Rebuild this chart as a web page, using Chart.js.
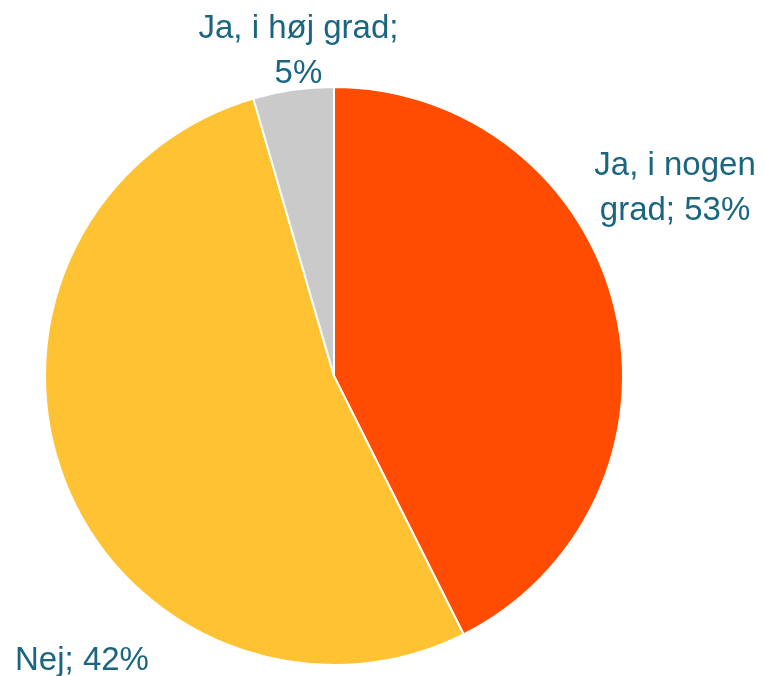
<!DOCTYPE html>
<html>
<head>
<meta charset="utf-8">
<script src="https://cdn.jsdelivr.net/npm/chart.js@4.4.1/dist/chart.umd.min.js"></script>
<style>
  html, body { margin: 0; padding: 0; background: #fff; }
  #wrap { width: 765px; height: 676px; }
</style>
</head>
<body>
<div id="wrap"><canvas id="myChart"></canvas></div>
<script>
// slice sizes
var categories = ['Ja, i nogen grad', 'Nej', 'Ja, i høj grad'];
var sliceValues = [42.6, 52.9, 4.5];
// percentages as printed in the labels
var labelPercents = [53, 42, 5];
var sliceColors = ['#FF4C00', '#FFC233', '#CACACA'];

// label text lines, built from the category names and printed percentages
var labelLines = [
  ['Ja, i nogen', 'grad; ' + labelPercents[0] + '%'],
  ['Nej; ' + labelPercents[1] + '%'],
  ['Ja, i høj grad;', labelPercents[2] + '%']
];

// label anchor, in units of pie radius from the pie centre (x centre, first baseline)
var labelAnchor = [
  [1.18, -0.694],
  [-0.872, 1.016],
  [-0.123, -1.168]
];

var pieLabels = {
  id: 'pieLabels',
  afterDatasetsDraw: function(chart) {
    var ctx = chart.ctx;
    var meta = chart.getDatasetMeta(0);
    ctx.save();
    ctx.font = '33px "Liberation Sans", Arial, sans-serif';
    ctx.fillStyle = '#1A6580';
    ctx.textAlign = 'center';
    ctx.textBaseline = 'alphabetic';
    meta.data.forEach(function(arc, i) {
      var r = arc.outerRadius;
      var x = arc.x + labelAnchor[i][0] * r;
      var y = arc.y + labelAnchor[i][1] * r;
      labelLines[i].forEach(function(line, j) {
        ctx.fillText(line, x, y + j * 45);
      });
    });
    ctx.restore();
  }
};

var ctx = document.getElementById('myChart').getContext('2d');
var chart = new Chart(ctx, {
  type: 'pie',
  data: {
    labels: categories,
    datasets: [{
      data: sliceValues,
      backgroundColor: sliceColors,
      borderColor: '#FFFFFF',
      borderWidth: 2
    }]
  },
  options: {
    responsive: true,
    maintainAspectRatio: false,
    animation: false,
    layout: {
      padding: { left: 44, right: 141, top: 86, bottom: 10 }
    },
    plugins: {
      legend: { display: false },
      tooltip: { enabled: false }
    }
  },
  plugins: [pieLabels]
});
</script>
</body>
</html>
